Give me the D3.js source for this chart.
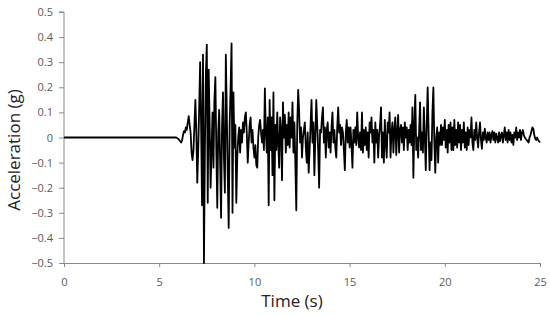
<!DOCTYPE html>
<html>
<head>
<meta charset="utf-8">
<script src="https://cdn.jsdelivr.net/npm/d3@7"></script>
<style>
  body { margin: 0; background: #fff; }
  svg { display: block; }
</style>
</head>
<body>
<div id="chart"></div>
<script>
// accelerogram
// record is quiet (0 g) from t = 0 until the first sample below
const quietStart = 0;
const sampleStart = 5.8;   // s
const sampleStep = 0.05;   // s

// acceleration (g), one row per second of record
const accel = [
  0, 0, 0, -0.003, -0.005, -0.01, -0.015, -0.02, -0.012, 0.01, 0.025, 0.02, 0.04, 0.03, 0.06, 0.085, 0.05, 0.02, -0.06, -0.09,   // 5.8
  -0.05, 0.05, 0.15, 0.02, -0.18, -0.05, 0.12, 0.30, 0.05, -0.27, 0.33, -0.50, -0.05, 0.25, 0.37, -0.26, 0.27, 0.05, -0.20, -0.05, // 6.8
  0.10, -0.12, 0.15, 0.24, -0.05, -0.28, 0.02, 0.11, -0.10, -0.32, 0.05, 0.18, -0.08, -0.22, 0.33, 0.10, -0.15, -0.36, 0.05, 0.20, // 7.8
  0.375, -0.30, 0.18, -0.04, 0.05, -0.26, -0.08, 0.0, 0.04, -0.06, 0.03, -0.02, 0.06, 0.02, 0.08, 0.10, 0.02, -0.10, -0.02, 0.05,  // 8.8
  0.08, -0.02, 0.03, -0.04, -0.08, -0.03, -0.11, -0.12, 0.0, 0.05, 0.07, 0.02, -0.02, 0.03, -0.05, 0.196, 0.02, -0.06, 0.08, -0.27, // 9.8
  0.15, -0.05, 0.08, -0.15, 0.18, -0.25, 0.05, -0.05, 0.10, -0.02, -0.12, 0.08, 0.03, -0.17, 0.14, 0.0, 0.09, -0.06, 0.05, -0.03,  // 10.8
  0.10, -0.04, 0.08, 0.0, 0.14, -0.06, 0.06, -0.10, -0.29, 0.05, 0.19, 0.10, -0.02, 0.04, -0.08, 0.0, 0.03, 0.06, -0.04, -0.10,    // 11.8
  0.02, -0.14, -0.05, 0.05, 0.15, -0.02, 0.06, -0.15, 0.0, 0.15, 0.05, -0.05, -0.20, 0.03, 0.02, 0.08, 0.12, -0.02, 0.04, -0.08,   // 12.8
  0.03, 0.06, -0.04, 0.02, -0.06, 0.04, 0.10, -0.02, 0.03, -0.04, -0.08, 0.04, 0.12, 0.02, 0.05, -0.03, 0.04, 0.02, -0.05, -0.13,  // 13.8
  0.02, 0.07, -0.02, 0.04, -0.04, 0.04, -0.03, -0.12, 0.03, -0.02, 0.04, -0.03, 0.10, 0.0, -0.04, 0.02, -0.05, 0.10, -0.06, 0.03,  // 14.8
  -0.03, 0.04, -0.05, 0.02, -0.08, 0.06, 0.02, 0.08, -0.02, 0.03, -0.10, 0.06, -0.02, 0.03, -0.08, 0.01, 0.05, 0.12, -0.08, 0.02,  // 15.8
  -0.10, 0.07, -0.02, -0.08, 0.06, 0.02, 0.10, -0.08, 0.02, 0.06, -0.06, 0.03, 0.08, -0.07, 0.02, 0.09, -0.06, 0.03, 0.05, -0.02,  // 16.8
  0.04, -0.05, 0.06, 0.0, 0.04, -0.05, 0.03, -0.02, 0.05, -0.03, 0.12, -0.16, 0.05, 0.17, -0.05, 0.0, -0.08, 0.02, 0.14, -0.05,    // 17.8
  0.02, -0.06, 0.12, 0.0, -0.13, 0.05, 0.20, 0.02, -0.13, -0.02, -0.09, 0.10, 0.20, -0.02, -0.14, 0.0, 0.04, -0.10, 0.02, -0.03,   // 18.8
  0.05, -0.03, 0.04, -0.01, 0.07, -0.04, 0.03, -0.06, 0.05, -0.02, 0.06, -0.05, 0.04, -0.05, 0.07, -0.03, 0.03, -0.04, 0.06, -0.02, // 19.8
  0.05, -0.05, 0.03, -0.02, 0.06, -0.04, 0.02, -0.05, 0.04, -0.03, 0.03, 0.0, 0.08, -0.02, -0.05, 0.03, -0.01, 0.06, 0.0, -0.04,   // 20.8
  0.02, 0.06, -0.01, -0.045, 0.02, -0.01, 0.035, 0.0, -0.02, 0.02, -0.01, 0.02, -0.02, 0.01, 0.025, -0.01, 0.02, -0.02, 0.015, 0.0, // 21.8
  -0.02, 0.02, -0.015, 0.01, 0.02, -0.02, 0.01, 0.04, -0.01, 0.02, -0.02, 0.03, -0.01, 0.02, -0.02, 0.01, -0.03, 0.02, 0.0, 0.04,  // 22.8
  -0.01, 0.02, 0.0, 0.03, -0.01, 0.02, 0.03, 0.01, 0.0, -0.005, -0.01, -0.015, -0.02, 0.0, 0.01, 0.025, 0.04, 0.035, 0.01, -0.005, // 23.8
  -0.01, 0.0, -0.01, -0.015, -0.02                                                                                                 // 24.8
];

const xTicks = [0, 5, 10, 15, 20, 25];
const yTicks = [-0.5, -0.4, -0.3, -0.2, -0.1, 0, 0.1, 0.2, 0.3, 0.4, 0.5];

const width = 550;
const height = 316;
const margin = { top: 12, right: 10, bottom: 53, left: 64 };

const series = [{ t: quietStart, a: 0 }].concat(
  accel.map((a, i) => ({ t: sampleStart + i * sampleStep, a: a }))
);

const svg = d3.select("#chart")
  .append("svg")
    .attr("width", width)
    .attr("height", height);

const x = d3.scaleLinear()
  .domain([0, 25])
  .range([margin.left, width - margin.right]);

const y = d3.scaleLinear()
  .domain([-0.5, 0.5])
  .range([height - margin.bottom, margin.top]);

const axisColor = "#898989";
const labelColor = "#595959";
const font = "'Open Sans', sans-serif";

// y axis
const yAxis = svg.append("g")
  .attr("transform", `translate(${margin.left},0)`)
  .call(d3.axisLeft(y)
    .tickValues(yTicks)
    .tickSize(5)
    .tickPadding(6)
    .tickFormat(d => d === 0 ? "0" : d3.format(".1f")(d)));

// x axis, sits at -0.5
const xAxis = svg.append("g")
  .attr("transform", `translate(0,${y(-0.5)})`)
  .call(d3.axisBottom(x)
    .tickValues(xTicks)
    .tickSize(4)
    .tickPadding(11)
    .tickSizeOuter(0));

[xAxis, yAxis].forEach(g => {
  g.select(".domain").attr("stroke", axisColor);
  g.selectAll(".tick line").attr("stroke", axisColor);
  g.selectAll(".tick text")
    .attr("fill", labelColor)
    .style("font-family", font)
    .style("font-size", "11px");
});
yAxis.select(".domain").attr("d", `M-5,${y(0.5)}H0V${y(-0.5)}`);

// the record
const line = d3.line()
  .x(d => x(d.t))
  .y(d => y(d.a));

svg.append("path")
  .datum(series)
  .attr("fill", "none")
  .attr("stroke", "#000")
  .attr("stroke-width", 1.8)
  .attr("stroke-linejoin", "round")
  .attr("d", line);

// axis titles
svg.append("text")
  .attr("x", 292)
  .attr("y", 307)
  .attr("text-anchor", "middle")
  .attr("fill", "#222")
  .style("font-family", font)
  .style("font-size", "17px")
  .text("Time (s)");

svg.append("text")
  .attr("transform", `translate(20,150) rotate(-90)`)
  .attr("text-anchor", "middle")
  .attr("fill", "#222")
  .style("font-family", font)
  .style("font-size", "17px")
  .text("Acceleration (g)");
</script>
</body>
</html>
